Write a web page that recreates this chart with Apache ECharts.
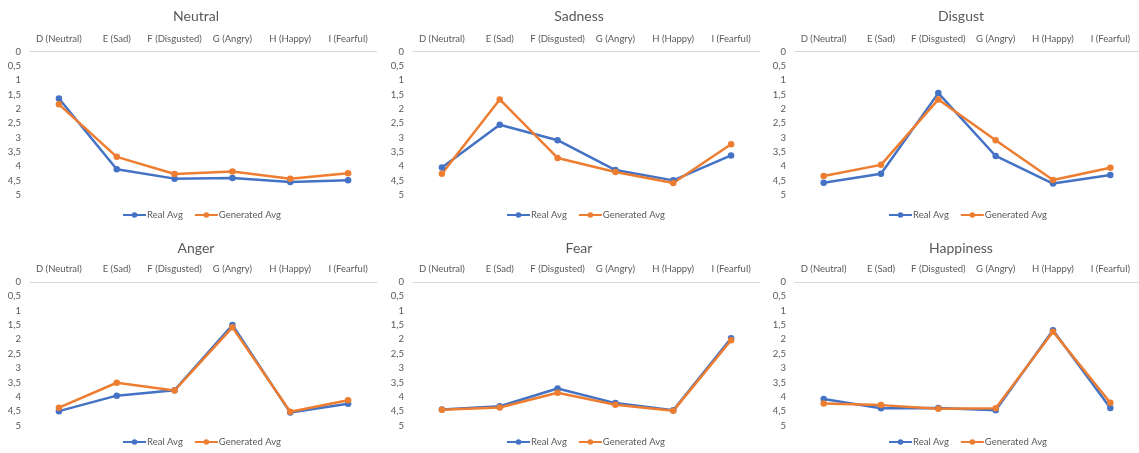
<!DOCTYPE html>
<html>
<head>
<meta charset="utf-8">
<script src="https://cdn.jsdelivr.net/npm/echarts@6/dist/echarts.min.js"></script>
<style>
  html, body { margin: 0; padding: 0; background: #ffffff; }
  #chart { width: 1139px; height: 453px; }
</style>
</head>
<body>
<div id="chart"></div>
<script>
// Response categories shared by all six panels
const categories = ['D (Neutral)', 'E (Sad)', 'F (Disgusted)', 'G (Angry)', 'H (Happy)', 'I (Fearful)'];
const seriesNames = ['Real Avg', 'Generated Avg'];
const panelTitles = ['Neutral', 'Sadness', 'Disgust', 'Anger', 'Fear', 'Happiness'];

// Average rank per emotion (lower = stronger), real vs generated
const neutralReal      = [1.64, 4.10, 4.43, 4.41, 4.55, 4.49];
const neutralGenerated = [1.84, 3.67, 4.27, 4.18, 4.43, 4.24];
const sadnessReal      = [4.04, 2.55, 3.09, 4.13, 4.49, 3.62];
const sadnessGenerated = [4.26, 1.67, 3.71, 4.20, 4.58, 3.23];
const disgustReal      = [4.57, 4.26, 1.45, 3.64, 4.60, 4.30];
const disgustGenerated = [4.34, 3.95, 1.67, 3.09, 4.48, 4.05];
const angerReal        = [4.50, 3.96, 3.77, 1.50, 4.55, 4.24];
const angerGenerated   = [4.38, 3.51, 3.78, 1.58, 4.52, 4.12];
const fearReal         = [4.44, 4.33, 3.71, 4.22, 4.47, 1.96];
const fearGenerated    = [4.45, 4.37, 3.86, 4.28, 4.49, 2.03];
const happinessReal      = [4.08, 4.40, 4.39, 4.47, 1.68, 4.39];
const happinessGenerated = [4.23, 4.29, 4.42, 4.40, 1.73, 4.21];

const panelData = [
  [neutralReal, neutralGenerated],
  [sadnessReal, sadnessGenerated],
  [disgustReal, disgustGenerated],
  [angerReal, angerGenerated],
  [fearReal, fearGenerated],
  [happinessReal, happinessGenerated]
];

const FONT = 'Lato, "Open Sans", sans-serif';
const TEXT = '#595959';
const COLORS = ['#4472C4', '#ED7D31'];

// panel layout: 3 columns x 2 rows
const colLeft = [30, 413, 795];
const colCenter = [196, 579, 961];
const legendLeft = [122, 506, 888];
const plotWidth = 347;
const rowTop = [51.5, 282];
const plotHeight = 143.5;
const titleTop = [9, 241];
const legendTop = [210, 437];

const grid = [], xAxis = [], yAxis = [], series = [], title = [], legend = [];

panelData.forEach((pair, i) => {
  const col = i % 3, row = Math.floor(i / 3);
  grid.push({ left: colLeft[col], top: rowTop[row], width: plotWidth, height: plotHeight, containLabel: false });
  xAxis.push({
    type: 'category', gridIndex: i, data: categories, position: 'top', boundaryGap: true,
    axisLine: { onZero: false, lineStyle: { color: '#d9d9d9', width: 1 } },
    axisTick: { show: false },
    axisLabel: { interval: 0, margin: 8, color: TEXT, fontFamily: FONT, fontSize: 9.5 },
    splitLine: { show: false }
  });
  yAxis.push({
    type: 'value', gridIndex: i, inverse: true, min: 0, max: 5, interval: 0.5,
    axisLine: { show: false }, axisTick: { show: false }, splitLine: { show: false },
    axisLabel: { margin: 9, color: TEXT, fontFamily: FONT, fontSize: 9.5,
      formatter: v => String(v).replace('.', ',') }
  });
  title.push({
    text: panelTitles[i], left: colCenter[col], top: titleTop[row], textAlign: 'center', padding: 0,
    textStyle: { color: TEXT, fontFamily: FONT, fontSize: 14, fontWeight: 'normal' }
  });
  legend.push({
    data: seriesNames, left: legendLeft[col], top: legendTop[row], padding: 0,
    itemWidth: 23, itemHeight: 7, itemGap: 11, selectedMode: false,
    textStyle: { color: TEXT, fontFamily: FONT, fontSize: 9.5, padding: [0, 0, 0, -4] }
  });
  pair.forEach((vals, k) => {
    series.push({
      name: seriesNames[k], type: 'line', xAxisIndex: i, yAxisIndex: i, data: vals,
      symbol: 'circle', symbolSize: 6.5, color: COLORS[k],
      lineStyle: { width: 2.5, color: COLORS[k] },
      itemStyle: { color: COLORS[k] },
      animation: false
    });
  });
});

const chart = echarts.init(document.getElementById('chart'), null, { renderer: 'canvas' });
chart.setOption({
  backgroundColor: '#ffffff',
  animation: false,
  title, legend, grid, xAxis, yAxis, series
});
</script>
</body>
</html>
